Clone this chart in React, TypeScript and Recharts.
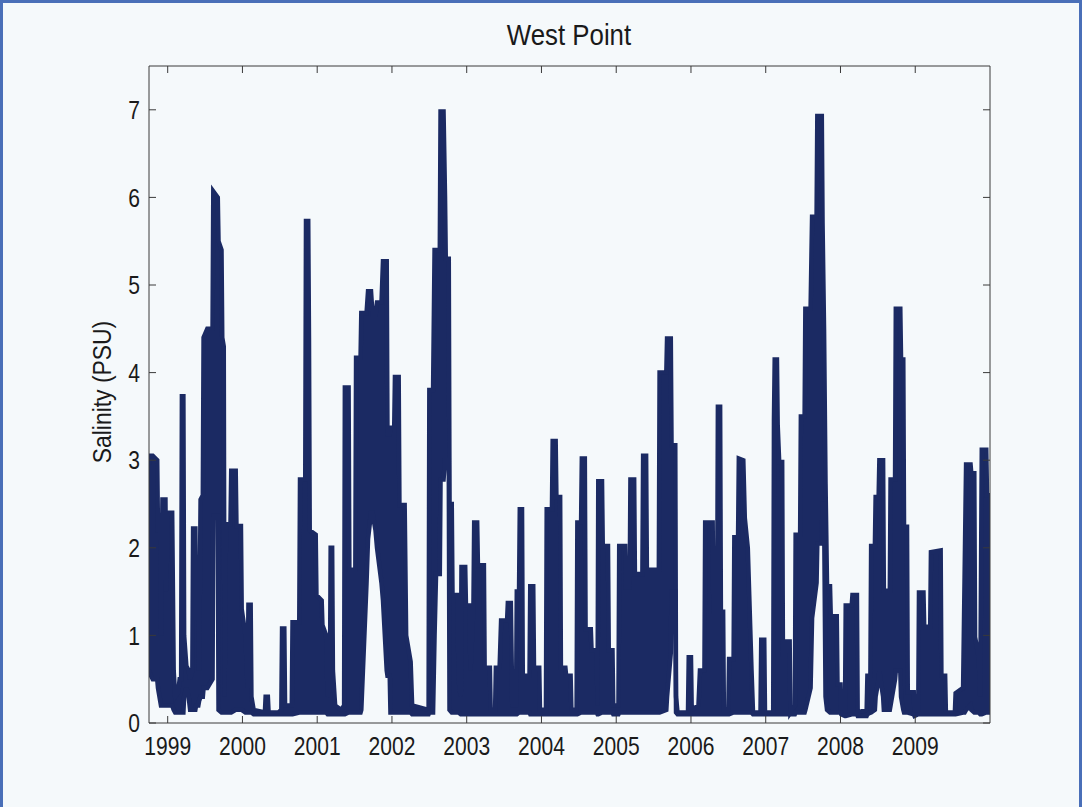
import React from "react";
import { Area, ComposedChart, XAxis, YAxis } from "recharts";

// Daily salinity envelope: [decimal year, daily low, daily high] in PSU.
const seg1999: [number, number, number][] = [
  [1998.75, 0.6, 2.95], [1998.77, 0.55, 3.05], [1998.8, 0.5, 3.05], [1998.86, 0.5, 3.0],
  [1998.87, 0.4, 2.2], [1998.9, 0.25, 2.2], [1998.91, 0.2, 1.0], [1998.93, 0.2, 2.55],
  [1998.97, 0.2, 2.55], [1998.98, 0.2, 1.5], [1999.0, 0.2, 2.4], [1999.06, 0.2, 2.4],
  [1999.08, 0.15, 0.6], [1999.1, 0.12, 0.3], [1999.14, 0.12, 0.35], [1999.16, 0.12, 0.5],
  [1999.18, 0.12, 0.5], [1999.19, 0.12, 3.73], [1999.21, 0.12, 3.73], [1999.22, 0.3, 1.0],
  [1999.25, 0.4, 0.65], [1999.28, 0.3, 0.6], [1999.3, 0.15, 0.5], [1999.33, 0.15, 0.6],
  [1999.34, 0.15, 2.22], [1999.37, 0.15, 2.22], [1999.38, 0.2, 1.2], [1999.41, 0.2, 1.2],
  [1999.42, 0.25, 0.6], [1999.44, 0.3, 2.55], [1999.47, 0.3, 2.6], [1999.48, 0.4, 4.4],
  [1999.53, 0.4, 4.5], [1999.6, 0.5, 4.5], [1999.61, 2.37, 6.07], [1999.67, 2.37, 6.0],
  [1999.68, 0.15, 5.5], [1999.72, 0.12, 5.4], [1999.73, 0.12, 4.4], [1999.75, 0.12, 4.3],
  [1999.76, 0.12, 0.3], [1999.78, 0.12, 2.27], [1999.84, 0.12, 2.27], [1999.85, 0.12, 2.88],
  [1999.91, 0.15, 2.88], [1999.92, 0.15, 2.25], [1999.98, 0.15, 2.25], [1999.99, 0.15, 1.3],
];

const seg2000: [number, number, number][] = [
  [2000.04, 0.12, 1.0], [2000.07, 0.12, 0.4], [2000.08, 0.12, 1.35], [2000.11, 0.12, 1.35],
  [2000.12, 0.12, 0.3], [2000.15, 0.1, 0.15], [2000.3, 0.1, 0.12], [2000.31, 0.1, 0.3],
  [2000.34, 0.1, 0.3], [2000.35, 0.1, 0.12], [2000.48, 0.1, 0.12], [2000.52, 0.1, 0.15],
  [2000.53, 0.1, 1.08], [2000.56, 0.1, 1.08], [2000.57, 0.1, 0.2], [2000.66, 0.1, 0.2],
  [2000.67, 0.1, 1.15], [2000.76, 0.12, 1.15], [2000.77, 0.12, 2.78], [2000.84, 0.12, 2.78],
  [2000.85, 0.12, 5.73], [2000.88, 0.12, 5.73], [2000.89, 0.12, 4.4], [2000.9, 0.12, 2.2],
  [2000.98, 0.12, 2.15], [2000.99, 0.12, 1.46],
];

const seg2001: [number, number, number][] = [
  [2001.06, 0.12, 1.4], [2001.07, 0.12, 1.12], [2001.12, 0.12, 1.0], [2001.14, 0.1, 0.3],
  [2001.17, 0.1, 0.4], [2001.18, 0.1, 2.0], [2001.2, 0.1, 2.0], [2001.21, 0.1, 0.6],
  [2001.24, 0.1, 0.2], [2001.32, 0.1, 0.15], [2001.36, 0.1, 0.2], [2001.37, 0.1, 3.83],
  [2001.42, 0.12, 3.83], [2001.43, 0.12, 1.75], [2001.51, 0.12, 1.75], [2001.52, 0.12, 4.17],
  [2001.58, 0.12, 4.17], [2001.59, 0.15, 4.68], [2001.66, 1.6, 4.68], [2001.68, 2.1, 4.93],
  [2001.72, 2.4, 4.93], [2001.74, 2.4, 4.66], [2001.78, 2.2, 4.66], [2001.8, 2.0, 4.8],
  [2001.86, 1.6, 4.8], [2001.88, 1.4, 5.27], [2001.93, 0.6, 5.27], [2001.94, 0.54, 3.3],
  [2001.97, 0.54, 3.3], [2001.98, 0.12, 3.37],
];

const seg2002: [number, number, number][] = [
  [2002.03, 0.12, 3.37], [2002.04, 0.12, 3.95], [2002.09, 0.12, 3.95], [2002.1, 0.12, 2.49],
  [2002.17, 0.12, 2.49], [2002.19, 0.12, 1.0], [2002.25, 0.12, 0.7], [2002.27, 0.1, 0.2],
  [2002.49, 0.1, 0.15], [2002.5, 0.12, 3.8], [2002.55, 0.12, 3.8], [2002.57, 1.0, 5.4],
  [2002.59, 1.7, 5.4], [2002.64, 1.7, 5.4], [2002.65, 2.78, 6.98], [2002.69, 2.78, 6.98],
  [2002.71, 3.0, 6.0], [2002.72, 3.0, 5.3], [2002.76, 3.0, 5.3], [2002.77, 0.15, 2.5],
  [2002.8, 0.12, 2.5], [2002.81, 0.12, 1.46], [2002.88, 0.12, 1.46], [2002.89, 0.12, 0.5],
  [2002.92, 0.1, 0.3], [2002.93, 0.1, 1.78], [2002.98, 0.1, 1.78], [2002.99, 0.1, 1.34],
];

const seg2003: [number, number, number][] = [
  [2003.04, 0.1, 1.34], [2003.05, 0.1, 0.6], [2003.09, 0.1, 1.34], [2003.1, 0.1, 2.29],
  [2003.14, 0.1, 2.29], [2003.15, 0.1, 1.8], [2003.23, 0.1, 1.8], [2003.24, 0.1, 0.63],
  [2003.31, 0.1, 0.63], [2003.32, 0.1, 0.15], [2003.38, 0.1, 0.15], [2003.39, 0.1, 0.63],
  [2003.44, 0.1, 0.63], [2003.46, 0.1, 1.17], [2003.54, 0.1, 1.17], [2003.55, 0.1, 1.37],
  [2003.59, 0.1, 1.37], [2003.61, 0.1, 0.2], [2003.66, 0.1, 0.2], [2003.67, 0.1, 1.5],
  [2003.7, 0.12, 1.5], [2003.71, 0.12, 2.44], [2003.74, 0.12, 2.44], [2003.75, 0.12, 0.54],
  [2003.84, 0.12, 0.54], [2003.85, 0.1, 1.56], [2003.89, 0.1, 1.56], [2003.9, 0.1, 0.63],
  [2003.97, 0.1, 0.63], [2003.98, 0.1, 0.15],
];

const seg2004: [number, number, number][] = [
  [2004.06, 0.1, 0.15], [2004.07, 0.1, 2.44], [2004.14, 0.1, 2.44], [2004.15, 0.1, 3.22],
  [2004.19, 0.1, 3.22], [2004.2, 0.1, 2.58], [2004.25, 0.1, 2.58], [2004.26, 0.1, 0.63],
  [2004.32, 0.1, 0.63], [2004.33, 0.1, 0.54], [2004.39, 0.1, 0.54], [2004.4, 0.1, 0.15],
  [2004.47, 0.1, 0.15], [2004.48, 0.1, 2.29], [2004.53, 0.12, 2.29], [2004.54, 0.12, 3.02],
  [2004.58, 0.12, 3.02], [2004.59, 0.12, 1.07], [2004.66, 0.12, 1.07], [2004.67, 0.12, 0.83],
  [2004.74, 0.12, 0.83], [2004.75, 0.1, 0.2], [2004.76, 0.1, 2.76], [2004.81, 0.12, 2.76],
  [2004.82, 0.12, 2.02], [2004.89, 0.12, 2.02], [2004.9, 0.12, 0.83], [2004.95, 0.12, 0.83],
  [2004.96, 0.1, 0.2],
];

const seg2005: [number, number, number][] = [
  [2005.03, 0.1, 0.2], [2005.04, 0.12, 2.02], [2005.12, 0.12, 2.02], [2005.13, 0.12, 1.55],
  [2005.18, 0.12, 1.55], [2005.19, 0.12, 2.78], [2005.24, 0.12, 2.78], [2005.25, 0.12, 1.7],
  [2005.35, 0.12, 1.7], [2005.36, 0.12, 3.05], [2005.4, 0.12, 3.05], [2005.41, 0.12, 1.75],
  [2005.57, 0.12, 1.75], [2005.58, 0.12, 4.0], [2005.67, 0.15, 4.0], [2005.68, 0.3, 4.39],
  [2005.73, 0.8, 4.39], [2005.74, 1.5, 3.17], [2005.79, 1.5, 3.17], [2005.8, 0.12, 0.3],
  [2005.82, 0.1, 0.12], [2005.96, 0.1, 0.12], [2005.97, 0.1, 0.75],
];

const seg2006: [number, number, number][] = [
  [2006.0, 0.1, 0.75], [2006.01, 0.1, 0.15], [2006.1, 0.1, 0.2], [2006.12, 0.1, 0.6],
  [2006.18, 0.1, 0.6], [2006.19, 0.1, 2.29], [2006.29, 0.1, 2.29], [2006.3, 0.1, 1.27],
  [2006.35, 0.1, 1.27], [2006.36, 0.1, 3.61], [2006.39, 0.1, 3.61], [2006.4, 0.1, 1.27],
  [2006.43, 0.1, 1.27], [2006.44, 0.1, 0.15], [2006.5, 0.1, 0.15], [2006.51, 0.1, 0.73],
  [2006.57, 0.12, 0.73], [2006.58, 0.12, 2.12], [2006.63, 0.12, 2.12], [2006.64, 0.12, 3.02],
  [2006.7, 0.12, 3.0], [2006.72, 0.12, 2.34], [2006.76, 0.12, 2.0], [2006.81, 0.12, 0.6],
  [2006.83, 0.1, 0.12], [2006.93, 0.1, 0.12], [2006.94, 0.1, 0.95], [2006.98, 0.1, 0.95],
  [2006.99, 0.1, 0.12],
];

const seg2007: [number, number, number][] = [
  [2007.1, 0.1, 0.12], [2007.11, 0.1, 3.46], [2007.12, 0.1, 4.15], [2007.15, 0.1, 4.15],
  [2007.16, 0.1, 3.4], [2007.18, 0.1, 2.98], [2007.22, 0.1, 2.98], [2007.23, 0.1, 0.78],
  [2007.26, 0.1, 0.78], [2007.27, 0.1, 0.93], [2007.32, 0.1, 0.93], [2007.33, 0.1, 0.12],
  [2007.39, 0.1, 0.2], [2007.4, 0.12, 2.15], [2007.46, 0.12, 2.15], [2007.47, 0.12, 3.5],
  [2007.52, 0.12, 3.5], [2007.53, 0.15, 4.73], [2007.6, 0.4, 4.73], [2007.62, 1.2, 5.78],
  [2007.68, 1.6, 5.78], [2007.69, 2.05, 6.93], [2007.75, 2.05, 6.93], [2007.76, 2.5, 5.71],
  [2007.78, 2.5, 4.5], [2007.8, 0.3, 2.73], [2007.82, 0.15, 1.56], [2007.86, 0.12, 1.56],
  [2007.87, 0.12, 1.22], [2007.95, 0.12, 1.22], [2007.96, 0.12, 0.44],
];

const seg2008: [number, number, number][] = [
  [2008.0, 0.12, 0.44], [2008.01, 0.1, 0.12], [2008.06, 0.08, 0.12], [2008.07, 0.08, 1.34],
  [2008.15, 0.1, 1.34], [2008.16, 0.1, 1.46], [2008.22, 0.1, 1.46], [2008.23, 0.08, 0.12],
  [2008.35, 0.08, 0.15], [2008.36, 0.1, 0.54], [2008.4, 0.12, 0.54], [2008.41, 0.12, 2.02],
  [2008.46, 0.15, 2.02], [2008.47, 0.3, 2.58], [2008.51, 0.5, 2.58], [2008.52, 0.59, 3.0],
  [2008.57, 0.3, 3.0], [2008.58, 0.15, 1.51], [2008.66, 0.15, 1.51], [2008.67, 0.2, 2.78],
  [2008.73, 0.5, 2.78], [2008.74, 0.6, 4.73], [2008.8, 0.6, 4.73], [2008.81, 0.3, 4.15],
  [2008.84, 0.15, 4.15], [2008.85, 0.12, 2.24], [2008.89, 0.12, 2.24], [2008.9, 0.12, 0.35],
  [2008.98, 0.1, 0.35], [2008.99, 0.08, 0.12],
];

const seg2009: [number, number, number][] = [
  [2009.04, 0.1, 0.12], [2009.05, 0.1, 1.49], [2009.11, 0.1, 1.49], [2009.12, 0.1, 1.1],
  [2009.2, 0.1, 1.1], [2009.21, 0.1, 1.95], [2009.34, 0.1, 1.97], [2009.35, 0.1, 0.54],
  [2009.4, 0.1, 0.54], [2009.41, 0.1, 0.12], [2009.53, 0.1, 0.12], [2009.54, 0.1, 0.34],
  [2009.64, 0.12, 0.4], [2009.66, 0.12, 1.66], [2009.68, 0.15, 2.95], [2009.74, 0.2, 2.95],
  [2009.75, 0.15, 2.85], [2009.79, 0.12, 2.85], [2009.8, 0.12, 0.98], [2009.85, 0.12, 0.75],
  [2009.87, 0.1, 0.3], [2009.89, 0.1, 3.12], [2009.95, 0.12, 3.12], [2009.96, 0.12, 2.6],
  [2010.0, 0.12, 2.6],
];

const YEAR_TICKS = [1999, 2000, 2001, 2002, 2003, 2004, 2005, 2006, 2007, 2008, 2009];
const SALINITY_TICKS = [0, 1, 2, 3, 4, 5, 6, 7];

const NAVY = "#1b2a63";
const INK = "#1a1a1a";
const FONT = '"Liberation Sans", Arial, sans-serif';
const AXIS = { stroke: "#3a3a3a", strokeWidth: 1 };

const data = [
  ...seg1999, ...seg2000, ...seg2001, ...seg2002, ...seg2003, ...seg2004,
  ...seg2005, ...seg2006, ...seg2007, ...seg2008, ...seg2009,
].map(([t, lo, hi]) => ({ t, range: [lo, hi] }));

// The original uses a narrow Helvetica; squeeze Liberation Sans horizontally to match.
const NarrowTick = (props: any) => {
  const { x, y, payload, textAnchor, verticalAnchor } = props;
  const dy = verticalAnchor === "start" ? "0.71em" : "0.355em";
  return (
    <text
      transform={`translate(${x},${y}) scale(0.81,1)`}
      textAnchor={textAnchor}
      dy={dy}
      fontSize={26}
      fontFamily={FONT}
      fill={INK}
    >
      {payload.value}
    </text>
  );
};

export default function App() {
  return (
    <div
      style={{
        position: "absolute",
        left: 0,
        top: 0,
        width: 1082,
        height: 807,
        background: "#f5f9fb",
        boxSizing: "border-box",
        borderTop: "3px solid #4a6fb8",
        borderLeft: "3px solid #4a6fb8",
        borderRight: "3px solid #4a6fb8",
        overflow: "hidden",
      }}
    >
      <div
        style={{
          position: "absolute",
          left: 569 - 3,
          top: 18 - 3,
          transform: "translateX(-50%) scaleX(0.86)",
          fontFamily: FONT,
          fontSize: 30,
          color: INK,
          whiteSpace: "nowrap",
        }}
      >
        West Point
      </div>
      <div
        style={{
          position: "absolute",
          left: 102 - 3,
          top: 392 - 3,
          transform: "translate(-50%, -50%) rotate(-90deg) scaleX(0.88)",
          fontFamily: FONT,
          fontSize: 26,
          color: INK,
          whiteSpace: "nowrap",
        }}
      >
        Salinity (PSU)
      </div>
      <div style={{ position: "absolute", left: -3, top: -3 }}>
        <ComposedChart
          width={1082}
          height={807}
          data={data}
          margin={{ top: 65, right: 91, bottom: 44, left: 0 }}
        >
          <XAxis
            dataKey="t"
            type="number"
            domain={[1998.75, 2010]}
            ticks={YEAR_TICKS}
            allowDataOverflow
            height={40}
            tick={<NarrowTick />}
            tickSize={-7}
            tickMargin={21}
            tickLine={AXIS}
            axisLine={AXIS}
            interval={0}
          />
          <XAxis
            xAxisId="top"
            orientation="top"
            dataKey="t"
            type="number"
            domain={[1998.75, 2010]}
            ticks={YEAR_TICKS}
            allowDataOverflow
            height={1}
            tickFormatter={() => ""}
            tickSize={-7}
            tickLine={AXIS}
            axisLine={AXIS}
            interval={0}
          />
          <YAxis
            type="number"
            domain={[0, 7.5]}
            ticks={SALINITY_TICKS}
            allowDataOverflow
            width={149}
            tick={<NarrowTick />}
            tickSize={-7}
            tickMargin={16}
            tickLine={AXIS}
            axisLine={AXIS}
            interval={0}
          />
          <YAxis
            yAxisId="right"
            orientation="right"
            type="number"
            domain={[0, 7.5]}
            ticks={SALINITY_TICKS}
            allowDataOverflow
            width={1}
            tickFormatter={() => ""}
            tickSize={-7}
            tickLine={AXIS}
            axisLine={AXIS}
            interval={0}
          />
          <Area
            dataKey="range"
            type="linear"
            stroke={NAVY}
            strokeWidth={4.5}
            fill={NAVY}
            fillOpacity={1}
            dot={false}
            activeDot={false}
            isAnimationActive={false}
          />
        </ComposedChart>
      </div>
    </div>
  );
}
